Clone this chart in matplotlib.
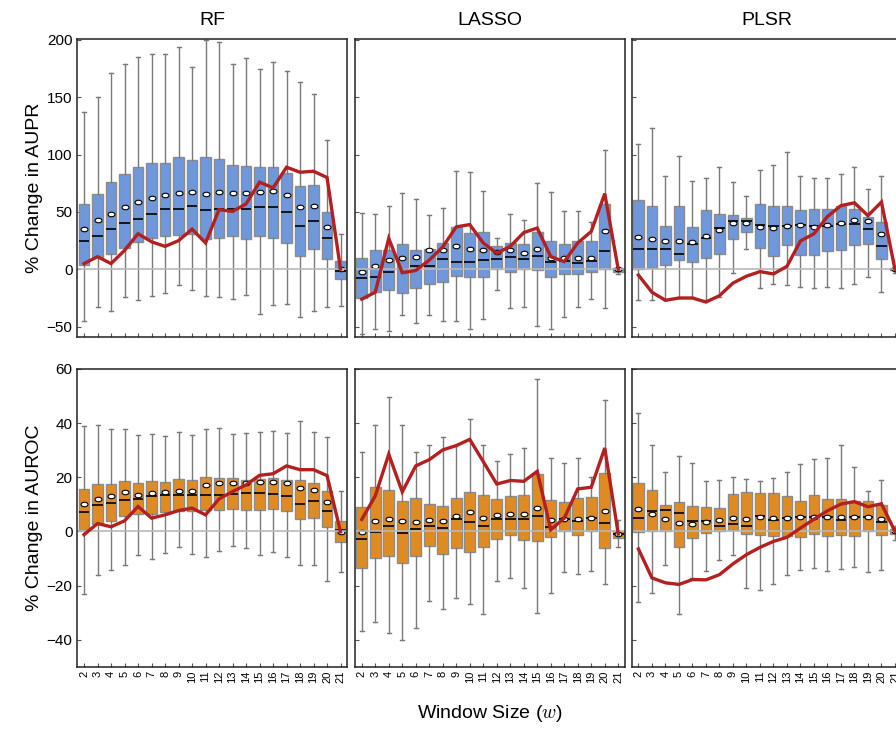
import numpy as np
import matplotlib
matplotlib.use("Agg")
import matplotlib.pyplot as plt
from matplotlib.path import Path

plt.rcParams['font.family'] = ['Liberation Sans', 'DejaVu Sans']
plt.rcParams['mathtext.fontset'] = 'cm'

windows = list(range(2, 22))
models = ['RF', 'LASSO', 'PLSR']

# ---- % change in AUPR ----
rf_aupr_hi = [137, 150, 171, 179, 185, 188, 188, 194, 176, 200, 198, 179, 184, 175, 181, 173, 163, 153, 113, 31]
rf_aupr_q3 = [57, 66, 76, 83, 89, 93, 93, 98, 95, 98, 96, 91, 90, 89, 89, 84, 73, 73.5, 50, 7]
rf_aupr_med = [24.5, 29, 35.5, 40, 44, 48, 53, 53, 55.5, 52, 53, 53, 53, 54, 54, 50, 37.5, 42, 27, -1.5]
rf_aupr_q1 = [4, 11, 13, 18.6, 23.5, 27, 29, 30, 31, 26, 27, 29, 26, 29, 27, 23, 11.6, 18, 8.7, -8.5]
rf_aupr_lo = [-45, -33, -36, -24, -27, -23, -21, -14, -18, -23, -24, -26, -22, -39, -31, -30, -42, -36, -33, -32]
rf_aupr_mean = [35, 43, 48.5, 54, 59, 62, 65, 66.5, 67.5, 66, 67.5, 66.5, 66.5, 67.5, 68, 65, 54, 55.5, 37, 0]
rf_aupr_line = [5, 11, 5, 16.5, 31, 24, 20, 25, 35, 23, 52, 50.5, 57, 76, 71, 89, 84.6, 85.5, 80, 0]

lasso_aupr_hi = [49, 48, 55, 66.5, 61, 47, 53.5, 86, 85, 68, 27, 48, 43, 75, 67, 51, 51, 41, 104, 1.5]
lasso_aupr_q3 = [10, 17, 17, 22, 16.5, 17.5, 23, 37, 32, 32.5, 20, 23, 22, 32.5, 25, 22, 24.5, 24.5, 57, 1]
lasso_aupr_med = [-7.5, -7, -2.5, 0, 2.5, 3, 9, 6, 6, 8, 9, 11, 9, 11.5, 6, 7, 5.5, 7, 16, 0]
lasso_aupr_q1 = [-25, -19.5, -18, -21, -16, -13, -11, -5.5, -7, -7, 0, -2, 0, -1, -7, -4, -4, -2, 0, -2]
lasso_aupr_lo = [-56, -52, -54, -40, -47, -40, -45, -45, -52, -43, -18, -34, -33, -49, -52, -41.5, -33, -25.6, -34, -4]
lasso_aupr_mean = [-2, 3, 8.5, 10, 11, 16.5, 17, 20, 18, 16.5, 15, 17, 14.5, 17.5, 10, 10, 10, 10, 33.4, 0]
lasso_aupr_line = [-26, -20, 27, -3, -1, 8, 19.5, 37, 39, 23, 14, 20, 32, 36, 11, 6.7, 23, 33, 66, 0]

plsr_aupr_hi = [109, 123, 81, 99, 77, 80, 89, 76, 64, 87, 91, 102.6, 81, 80, 80, 83, 89, 70, 81, 2]
plsr_aupr_q3 = [60, 55, 38, 55, 37, 52, 48, 47.7, 45, 57, 55.5, 55, 52, 53, 53, 55.5, 52.6, 45.6, 41.6, 1]
plsr_aupr_med = [18, 17.5, 17.5, 13, 22, 27, 36, 42, 42, 39, 37.5, 38, 39, 38, 37.5, 39.5, 39.5, 35.5, 20.6, 0]
plsr_aupr_q1 = [0.3, 1, 4, 8.4, 6.4, 10, 13.7, 26.5, 32.5, 18.6, 12, 21, 12.8, 12.8, 15.7, 17, 21.5, 22.4, 9.3, -1]
plsr_aupr_lo = [-26.5, -26.5, -27, -25, -24, -26.5, -24, -3, 17.5, -16, -13, -14, -15, -16, -15, -16, -12.8, -7, -19.5, -3]
plsr_aupr_mean = [28, 26.5, 25, 25, 23.5, 29, 34.5, 40, 40, 37, 36, 37.5, 39, 37, 39, 40.7, 42.7, 42.4, 31, 0]
plsr_aupr_line = [-5, -20, -27, -25, -25, -28.5, -23, -12, -6, -2, -4, 2.6, 24.7, 31, 46, 55.5, 58, 46.8, 58.7, 0]

# ---- % change in AUROC ----
rf_auroc_hi = [38.9, 39.3, 37.9, 38, 35.5, 35.8, 35.3, 36.8, 35.7, 37.9, 38.3, 36, 36.2, 36.8, 37, 36.4, 40.7, 36.7, 35, 15.1]
rf_auroc_q3 = [15.5, 17.4, 17.4, 18.5, 18, 18.5, 18.4, 19.3, 19.1, 20.1, 19.9, 19.8, 19.1, 19.4, 19.6, 19.1, 18.9, 17.7, 14.8, 4]
rf_auroc_med = [7, 9.6, 10.6, 11.7, 11.9, 13, 13.5, 13.5, 13.5, 13.5, 13.5, 13.7, 14.2, 14.2, 13.9, 12.9, 10.2, 11.3, 7.6, 0.4]
rf_auroc_q1 = [0.4, 2.7, 3.9, 5.6, 6.4, 6.3, 7, 7.6, 7.6, 8, 7.9, 8.3, 7.9, 8, 8.3, 7.7, 4.5, 4.9, 1.5, -3.9]
rf_auroc_lo = [-23.3, -16.2, -14.2, -12.6, -8.7, -10.2, -7.9, -5.9, -8.3, -9.3, -7.1, -5.3, -6.3, -8.8, -7.5, -9.6, -12.6, -12.6, -18.4, -15]
rf_auroc_mean = [10.2, 11.9, 13.1, 14.5, 13.5, 14.2, 14.7, 15.1, 15.1, 17.3, 17.7, 17.8, 18, 18.2, 18.3, 17.9, 16, 15.2, 11, -0.2]
rf_auroc_line = [-1.2, 2.9, 1.7, 3.9, 9.2, 4.9, 6.1, 7.7, 8.6, 6.1, 12, 14.7, 17.2, 20.7, 21.3, 24.2, 22.8, 22.8, 20.6, -0.2]

lasso_auroc_hi = [29.4, 39.3, 49.8, 39.3, 29.2, 32.1, 35, 31.9, 41.6, 32.1, 26.1, 28.6, 30.7, 56.4, 27.2, 25.4, 27.2, 20.2, 48.7, 4.3]
lasso_auroc_q3 = [9, 16.3, 15.2, 11.2, 12.5, 10.3, 9.4, 12.4, 14.4, 13.6, 11.9, 13, 13.6, 21.3, 11.5, 10.8, 12.5, 12.8, 21.5, 0]
lasso_auroc_med = [-2.7, -0.1, 2.1, -0.6, 0.9, 2, 1.2, 4.5, 3.6, 2, 4.5, 4.5, 4.5, 5.6, 1.6, 4.7, 3.8, 4.9, 3.1, -1]
lasso_auroc_q1 = [-13.7, -10, -9.1, -11.5, -9, -5.3, -8.2, -6.1, -7.5, -5.6, -2.9, -1.5, -3.2, -3.7, -2.1, 0, -1.3, 0.2, -6.1, -2.5]
lasso_auroc_lo = [-36.9, -33.5, -37.7, -40.1, -35.7, -25.8, -28.7, -24.8, -27, -30.4, -18.2, -17.3, -20.9, -30.1, -22.7, -15, -15.7, -14.5, -19.4, -5.8]
lasso_auroc_mean = [-0.1, 3.9, 4.7, 3.9, 3.3, 4.2, 3.8, 5.6, 7, 4.8, 5.9, 6.4, 6.4, 8.7, 4.3, 4.4, 4.5, 4.9, 7.5, -1]
lasso_auroc_line = [4.4, 13.1, 28.5, 14.6, 24.2, 26.5, 30.1, 31.7, 34, 25.8, 17.5, 18.8, 18.5, 22.2, 0.6, 4.9, 15.7, 16.3, 30.8, -1]

plsr_auroc_hi = [43.8, 32.1, 21.8, 27.9, 25.4, 18.5, 18.9, 20.2, 19.5, 18.7, 19.9, 22.1, 25, 26.9, 27, 31.9, 23.9, 15, 19, 2]
plsr_auroc_q3 = [18, 15.3, 9.8, 10.9, 9.4, 9, 8.5, 13.7, 14.7, 14.2, 14.1, 12.9, 11.4, 13.3, 11.9, 12, 11.4, 11.2, 9.7, 1]
plsr_auroc_med = [4.9, 7.6, 7.9, 6.7, 3.8, 3.8, 2.1, 2.7, 2, 5.6, 4.3, 5, 5.2, 5.2, 5.2, 4.3, 5.3, 5.3, 3.6, 0]
plsr_auroc_q1 = [-0.4, 0, 0, -5.8, -2.3, -0.7, 0, 0.4, -0.9, -1.3, -1.8, -1.8, -2.1, -1, -1.7, -1.3, -1.7, 0, -1.3, -1]
plsr_auroc_lo = [-26.1, -22.6, -12.5, -30.4, -17.3, -14.8, -10.7, -8.7, -21.1, -21.6, -19.3, -16.1, -14.1, -13.7, -14.5, -13.9, -13.1, -15, -14.1, -3]
plsr_auroc_mean = [8.2, 6.6, 4.7, 3.2, 2.7, 3.6, 4.2, 4.8, 4.5, 5.3, 4.9, 5, 5.2, 5.2, 5.2, 5.3, 5.3, 5.3, 4.4, 0]
plsr_auroc_line = [-6.5, -17.2, -19, -19.6, -17.8, -17.9, -16, -12, -8.6, -5.9, -3.7, -2.2, 1.2, 4.5, 7.6, 10.1, 11, 9.1, 10.2, 0]

aupr = [
    (rf_aupr_lo, rf_aupr_q1, rf_aupr_med, rf_aupr_q3, rf_aupr_hi, rf_aupr_mean, rf_aupr_line),
    (lasso_aupr_lo, lasso_aupr_q1, lasso_aupr_med, lasso_aupr_q3, lasso_aupr_hi, lasso_aupr_mean, lasso_aupr_line),
    (plsr_aupr_lo, plsr_aupr_q1, plsr_aupr_med, plsr_aupr_q3, plsr_aupr_hi, plsr_aupr_mean, plsr_aupr_line),
]
auroc = [
    (rf_auroc_lo, rf_auroc_q1, rf_auroc_med, rf_auroc_q3, rf_auroc_hi, rf_auroc_mean, rf_auroc_line),
    (lasso_auroc_lo, lasso_auroc_q1, lasso_auroc_med, lasso_auroc_q3, lasso_auroc_hi, lasso_auroc_mean, lasso_auroc_line),
    (plsr_auroc_lo, plsr_auroc_q1, plsr_auroc_med, plsr_auroc_q3, plsr_auroc_hi, plsr_auroc_mean, plsr_auroc_line),
]

# flattened ellipse used for the mean markers
circ = Path.unit_circle()
ellipse = Path(circ.vertices * np.array([1.0, 0.65]), circ.codes)


def draw_panel(ax, series, color, ylim, yticks):
    lo, q1, med, q3, hi, mean, line = series
    stats = []
    for i in range(len(windows)):
        stats.append(dict(whislo=lo[i], q1=q1[i], med=med[i], q3=q3[i],
                          whishi=hi[i], mean=mean[i], fliers=[]))
    ax.bxp(stats, positions=windows, widths=0.8, capwidths=0.3,
           patch_artist=True, showmeans=True, showfliers=False,
           boxprops=dict(facecolor=color, edgecolor='#8c8c8c', linewidth=1.0),
           whiskerprops=dict(color='#7a7a7a', linewidth=1.0),
           capprops=dict(color='#7a7a7a', linewidth=1.0),
           medianprops=dict(color='black', linewidth=1.2),
           meanprops=dict(marker=ellipse, markerfacecolor='white',
                          markeredgecolor='black', markersize=5,
                          markeredgewidth=0.8),
           manage_ticks=False, zorder=2)
    ax.axhline(0, color='#b8b8b8', lw=1.2, zorder=2.5)
    ax.plot(windows, line, color='#b3201f', lw=2.4, zorder=4,
            solid_joinstyle='miter')
    ax.set_xlim(1.5, 21.5)
    ax.set_ylim(*ylim)
    ax.set_yticks(yticks)
    ax.set_xticks(windows)
    ax.tick_params(direction='in', length=3, color='#555555',
                   labelsize=11, top=False, right=False)
    for s in ax.spines.values():
        s.set_color('#222222')
        s.set_linewidth(1.1)


fig = plt.figure(figsize=(8.96, 7.29), dpi=100)

W, H = 896.0, 729.0
lefts = [77.3, 355.0, 631.7]
pw = 270.0
rows = [(39.3, 337.0), (369.0, 666.7)]

for r, (data, color, ylim, yticks, ylab) in enumerate([
        (aupr, '#6f97dc', (-59, 200.5), [-50, 0, 50, 100, 150, 200], '% Change in AUPR'),
        (auroc, '#e08b22', (-50, 60), [-40, -20, 0, 20, 40, 60], '% Change in AUROC')]):
    top, bot = rows[r]
    for c in range(3):
        ax = fig.add_axes([lefts[c] / W, (H - bot) / H, pw / W, (bot - top) / H])
        draw_panel(ax, data[c], color, ylim, yticks)
        if c == 0:
            ax.set_ylabel(ylab, fontsize=14, labelpad=2.5)
        else:
            ax.tick_params(labelleft=False)
        if r == 0:
            ax.set_title(models[c], fontsize=14, pad=10)
            ax.tick_params(labelbottom=False)
        else:
            ax.set_xticklabels([str(w) for w in windows], rotation=90,
                               fontsize=8)
            ax.tick_params(axis='x', pad=3)

fig.text(490 / W, 1 - 714 / H, 'Window Size ($w$)', fontsize=14,
         ha='center', va='center')

fig.savefig('out.png', dpi=100)
